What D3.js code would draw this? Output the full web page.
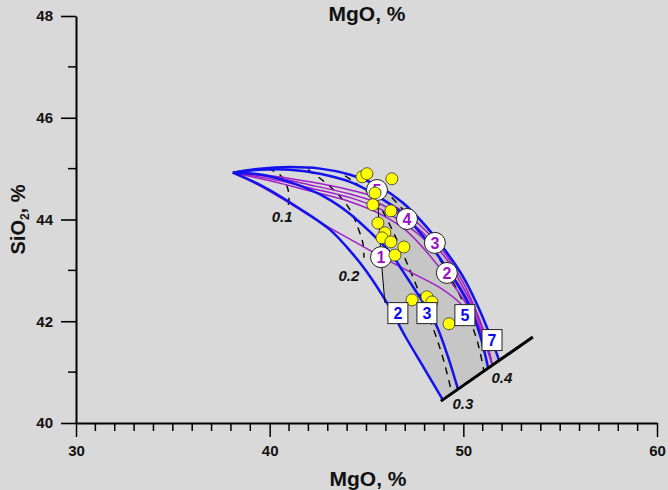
<!DOCTYPE html>
<html><head><meta charset="utf-8">
<script src="https://cdn.jsdelivr.net/npm/d3@7"></script>
<style>
html,body{margin:0;padding:0;background:#d9d9d9;}
svg{display:block;font-family:"Liberation Sans",Arial,sans-serif;}
</style></head><body>
<svg id="chart" width="668" height="490"></svg>
<script>
// ---------- data (MgO %, SiO2 %) ----------
const xTicks = [30, 40, 50, 60];
const yTicks = [40, 42, 44, 46, 48];
const xMinor = d3.range(31, 60).filter(v => v % 10 !== 0);
const yMinor = [41, 43, 45, 47];

// blue model curves (labels in boxes)
const blue2X = [38.10, 39.60, 41.56, 43.11, 44.25, 45.02, 46.06, 46.99, 47.97, 48.95];
const blue2Y = [44.92, 44.66, 44.21, 43.80, 43.34, 42.97, 42.36, 41.71, 41.08, 40.45];
const blue3X = [38.10, 39.60, 41.31, 42.86, 44.15, 45.28, 46.21, 46.83, 47.50, 48.17, 48.64, 49.21, 49.72];
const blue3Y = [44.92, 44.88, 44.70, 44.44, 44.11, 43.72, 43.36, 43.01, 42.62, 42.22, 41.89, 41.30, 40.67];
const blue5X = [38.10, 39.50, 41.05, 42.60, 44.15, 45.49, 46.73, 47.86, 48.79, 49.62, 50.29, 50.86, 51.27];
const blue5Y = [44.92, 44.98, 44.98, 44.90, 44.74, 44.48, 44.15, 43.70, 43.24, 42.77, 42.32, 41.73, 41.10];
const blue7X = [38.10, 39.50, 41.05, 42.60, 44.15, 45.59, 46.88, 48.02, 49.05, 49.93, 50.65, 51.27, 51.84];
const blue7Y = [44.92, 45.00, 45.03, 45.00, 44.88, 44.66, 44.33, 43.89, 43.40, 42.91, 42.38, 41.83, 41.24];

// purple model curves (labels in circles)
const purple1X = [38.10, 39.40, 41.15, 42.86, 44.40, 45.75, 47.24, 48.79, 49.93, 50.75, 51.22, 51.48];
const purple1Y = [44.92, 44.68, 44.29, 43.89, 43.56, 43.27, 42.97, 42.66, 42.32, 41.93, 41.53, 41.16];
const purple2X = [38.10, 40.02, 42.08, 44.15, 45.69, 46.99, 48.02, 48.95, 49.77, 50.50, 51.06, 51.48];
const purple2Y = [44.92, 44.76, 44.56, 44.35, 44.11, 43.80, 43.40, 42.97, 42.56, 42.12, 41.63, 41.16];
const purple3X = [38.10, 40.02, 42.08, 44.15, 45.69, 46.99, 48.17, 49.10, 49.88, 50.55, 51.06, 51.48];
const purple3Y = [44.92, 44.80, 44.62, 44.43, 44.21, 43.91, 43.54, 43.09, 42.65, 42.18, 41.67, 41.16];
const purple4X = [38.10, 40.02, 42.08, 44.15, 45.69, 46.99, 48.17, 49.15, 49.93, 50.60, 51.12, 51.48];
const purple4Y = [44.92, 44.84, 44.68, 44.50, 44.31, 44.03, 43.64, 43.21, 42.71, 42.22, 41.69, 41.16];
const purple5X = [38.10, 40.02, 42.08, 44.15, 45.69, 46.99, 48.17, 49.15, 49.98, 50.60, 51.12, 51.48];
const purple5Y = [44.92, 44.86, 44.74, 44.58, 44.41, 44.13, 43.74, 43.28, 42.77, 42.26, 41.73, 41.16];

// dashed melting-degree isolines
const iso01X = [39.91, 40.53, 40.89, 41.00, 40.95];
const iso01Y = [45.00, 44.88, 44.66, 44.44, 44.25];
const iso02X = [41.98, 42.70, 43.47, 44.15, 44.56, 44.82, 44.87];
const iso02Y = [44.98, 44.78, 44.52, 44.19, 43.84, 43.52, 43.25];
const iso03X = [43.89, 44.77, 45.49, 46.21, 46.73, 47.24, 47.66, 48.28, 48.90, 49.41];
const iso03Y = [44.86, 44.62, 44.37, 43.89, 43.46, 43.01, 42.62, 42.03, 41.34, 40.59];
const iso04X = [45.85, 46.88, 47.76, 48.64, 49.41, 49.93, 50.44, 50.81, 51.06];
const iso04Y = [44.62, 44.19, 43.76, 43.30, 42.81, 42.42, 41.93, 41.48, 41.02];
const isoLabels = ["0.1", "0.2", "0.3", "0.4"];
const isoLabelX = [40.64, 44.09, 49.98, 51.99];
const isoLabelY = [44.05, 42.89, 40.39, 40.90];

// thick black end line
const endLineX = [48.84, 53.59];
const endLineY = [40.43, 41.69];

// thin connector line (circle 5 -> circle 1 -> curve 2)
const thinX = [45.54, 45.75, 45.95];
const thinY = [44.58, 43.26, 42.36];

// circle labels
const circleLabels = ["5", "4", "3", "2", "1"];
const circleX = [45.54, 47.09, 48.53, 49.15, 45.75];
const circleY = [44.58, 44.01, 43.54, 42.95, 43.26];

// box labels
const boxLabels = ["2", "3", "5", "7"];
const boxX = [46.62, 48.12, 50.08, 51.48];
const boxY = [42.16, 42.16, 42.12, 41.63];

// sample points
const ptX = [44.77, 45.02, 46.31, 45.44, 45.33, 46.26, 45.59, 45.95, 45.80, 46.26, 46.93, 46.47, 47.35, 48.12, 48.38, 49.26];
const ptY = [44.84, 44.90, 44.80, 44.52, 44.29, 44.17, 43.93, 43.74, 43.64, 43.56, 43.46, 43.30, 42.42, 42.48, 42.38, 41.95];

// ---------- drawing ----------
const svg = d3.select("#chart");
const W = 668, H = 490;
svg.append("rect").attr("width", W).attr("height", H).attr("fill", "#d9d9d9");

const x = d3.scaleLinear().domain([30, 60]).range([76, 657]);
const y = d3.scaleLinear().domain([40, 48]).range([423, 16]);
const zip = (xs, ys) => xs.map((v, i) => [v, ys[i]]);
const smooth = d3.line().x(d => x(d[0])).y(d => y(d[1])).curve(d3.curveCatmullRom.alpha(0.5));
const straight = d3.line().x(d => x(d[0])).y(d => y(d[1]));

const gFill = svg.append("g");
const gLines = svg.append("g");
const gMarks = svg.append("g");

const BLUE = "#1212ee", PURPLE = "#a01fc8";

// dashed isolines
[[iso01X, iso01Y], [iso02X, iso02Y], [iso03X, iso03Y], [iso04X, iso04Y]].forEach(([xs, ys]) => {
  gLines.append("path").attr("d", smooth(zip(xs, ys))).attr("fill", "none")
    .attr("stroke", "#000").attr("stroke-width", 1.4).attr("stroke-dasharray", "7,6");
});

// purple curves
[[purple1X, purple1Y], [purple2X, purple2Y], [purple3X, purple3Y], [purple4X, purple4Y], [purple5X, purple5Y]].forEach(([xs, ys]) => {
  gLines.append("path").attr("d", smooth(zip(xs, ys))).attr("fill", "none")
    .attr("stroke", PURPLE).attr("stroke-width", 1.5);
});

// blue curves
const bluePaths = {};
[["2", blue2X, blue2Y], ["3", blue3X, blue3Y], ["5", blue5X, blue5Y], ["7", blue7X, blue7Y]].forEach(([id, xs, ys]) => {
  bluePaths[id] = gLines.append("path").attr("d", smooth(zip(xs, ys))).attr("fill", "none")
    .attr("stroke", BLUE).attr("stroke-width", 2.5);
});

// gray region sampled from drawn curves
function sample(p, n = 300) {
  const node = p.node(), L = node.getTotalLength(), out = [];
  for (let i = 0; i <= n; i++) { const q = node.getPointAtLength(L * i / n); out.push([q.x, q.y]); }
  return out;
}
const thinPx = zip(thinX, thinY).map(d => [x(d[0]), y(d[1])]);
const yJ = thinPx[2][1];
const c2 = sample(bluePaths["2"]).filter(p => p[1] >= yJ);
const c7 = sample(bluePaths["7"]).filter(p => p[0] >= thinPx[0][0]).reverse();
const poly = thinPx.concat(c2, c7);
gFill.append("path").attr("d", "M" + poly.map(p => p.join(",")).join("L") + "Z")
  .attr("fill", "#c6c6c6").attr("stroke", "none");

// thin connector
gLines.append("path").attr("d", straight(zip(thinX, thinY))).attr("fill", "none")
  .attr("stroke", "#000").attr("stroke-width", 1);

// thick end line
gLines.append("path").attr("d", straight(zip(endLineX, endLineY))).attr("fill", "none")
  .attr("stroke", "#000").attr("stroke-width", 3);

// isoline labels
isoLabels.forEach((t, i) => {
  gMarks.append("text").attr("x", x(isoLabelX[i])).attr("y", y(isoLabelY[i]))
    .attr("text-anchor", "middle").attr("dominant-baseline", "central")
    .attr("font-size", 15).attr("font-weight", "bold").attr("font-style", "italic")
    .attr("fill", "#111").text(t);
});

// circles
circleLabels.forEach((t, i) => {
  const g = gMarks.append("g").attr("transform", `translate(${x(circleX[i])},${y(circleY[i])})`);
  g.append("circle").attr("r", 10.5).attr("fill", "#fff").attr("stroke", "#222").attr("stroke-width", 1);
  g.append("text").attr("text-anchor", "middle").attr("dy", "0.36em")
    .attr("font-size", 16).attr("font-weight", "bold").attr("fill", "#9a10c8").text(t);
});

// points
gMarks.selectAll("circle.pt").data(zip(ptX, ptY)).enter().append("circle")
  .attr("class", "pt").attr("cx", d => x(d[0])).attr("cy", d => y(d[1])).attr("r", 6)
  .attr("fill", "#ffff00").attr("stroke", "#333").attr("stroke-width", 0.8);

// boxes
boxLabels.forEach((t, i) => {
  const g = gMarks.append("g").attr("transform", `translate(${x(boxX[i])},${y(boxY[i])})`);
  g.append("rect").attr("x", -10).attr("y", -10.5).attr("width", 20).attr("height", 21)
    .attr("fill", "#fff").attr("stroke", "#222").attr("stroke-width", 1);
  g.append("text").attr("text-anchor", "middle").attr("dy", "0.36em")
    .attr("font-size", 16).attr("font-weight", "bold").attr("fill", "#0a0af0").text(t);
});

// ---------- axes ----------
const gAxes = svg.append("g");
const yAxis = d3.axisLeft(y).tickValues(yTicks).tickSize(15).tickSizeOuter(0).tickPadding(8);
const xAxis = d3.axisBottom(x).tickValues(xTicks).tickSize(14).tickSizeOuter(0).tickPadding(8);
const ya = gAxes.append("g").attr("transform", `translate(${x(30)},0)`).call(yAxis);
const xa = gAxes.append("g").attr("transform", `translate(0,${y(40)})`).call(xAxis);
[ya, xa].forEach(a => {
  a.select(".domain").attr("stroke", "#000").attr("stroke-width", 2);
  a.selectAll(".tick line").attr("stroke", "#000").attr("stroke-width", 1.5);
  a.selectAll("text").attr("font-size", 15).attr("font-weight", "bold").attr("fill", "#111")
    .attr("font-family", '"Liberation Sans",Arial,sans-serif');
});
ya.selectAll(".tick line").attr("stroke-width", 1.6);
gAxes.selectAll("line.yminor").data(yMinor).enter().append("line").attr("class", "yminor")
  .attr("x1", x(30) - 8).attr("x2", x(30)).attr("y1", d => y(d)).attr("y2", d => y(d))
  .attr("stroke", "#000").attr("stroke-width", 1.5);
gAxes.selectAll("line.xminor").data(xMinor).enter().append("line").attr("class", "xminor")
  .attr("x1", d => x(d)).attr("x2", d => x(d)).attr("y1", y(40)).attr("y2", y(40) + 8)
  .attr("stroke", "#000").attr("stroke-width", 1.5);

// titles
svg.append("text").attr("x", 367).attr("y", 21).attr("text-anchor", "middle")
  .attr("font-size", 21).attr("font-weight", "bold").attr("fill", "#111").text("MgO, %");
svg.append("text").attr("x", 368).attr("y", 486).attr("text-anchor", "middle")
  .attr("font-size", 21).attr("font-weight", "bold").attr("fill", "#111").text("MgO, %");
const yt = svg.append("text").attr("transform", `translate(25,${(y(40) + y(48)) / 2}) rotate(-90)`)
  .attr("text-anchor", "middle").attr("font-size", 20).attr("font-weight", "bold").attr("fill", "#111");
yt.append("tspan").text("SiO");
yt.append("tspan").attr("font-size", 12).attr("dy", 4).text("2");
yt.append("tspan").attr("dy", -4).text(", %");
</script>
</body></html>
